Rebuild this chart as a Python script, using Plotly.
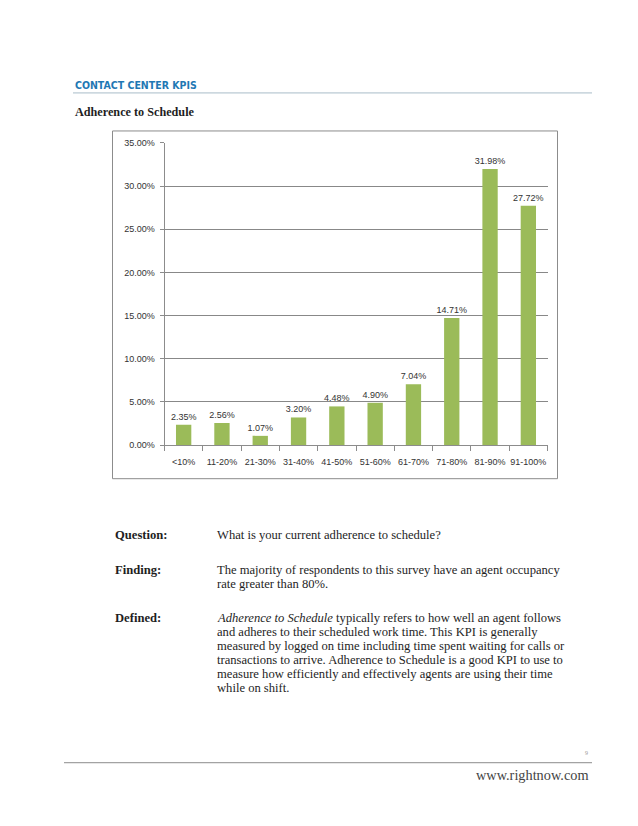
import plotly.graph_objects as go

W, H = 638, 826

categories = ["<10%", "11-20%", "21-30%", "31-40%", "41-50%", "51-60%", "61-70%", "71-80%", "81-90%", "91-100%"]
values = [2.35, 2.56, 1.07, 3.20, 4.48, 4.90, 7.04, 14.71, 31.98, 27.72]
y_ticks = [0, 5, 10, 15, 20, 25, 30, 35]
y_tick_text = [f"{v:.2f}%" for v in y_ticks]

def px_x(x):
    return x / W

def px_y(y):
    return 1 - y / H

fig = go.Figure()
fig.add_trace(go.Bar(
    x=categories, y=values,
    marker=dict(color="#9BBB59", line=dict(width=0)),
    texttemplate="%{y:.2f}%", textposition="outside", constraintext="none",
    textfont=dict(family="Liberation Sans", size=9, color="#333333"),
    cliponaxis=False,
))

SERIF = "Liberation Serif"
ann = []
def txt(x, y, s, size=12.6, bold=False, color="#1e1e1e", xanchor="left", family=SERIF):
    if bold:
        s = "<b>" + s + "</b>"
    ann.append(dict(x=px_x(x), y=px_y(y), xref="paper", yref="paper", text=s, showarrow=False,
                    xanchor=xanchor, yanchor="middle", font=dict(family=family, size=size, color=color)))

txt(73, 81, "CONTACT CENTER KPIS", size=10.5, bold=True, color="#1f78b4",
    family="DejaVu Sans Condensed")
txt(73, 108, "Adherence to Schedule", size=12.2, bold=True)

txt(113, 536, "Question:", bold=True)
txt(215, 536, "What is your current adherence to schedule?")
txt(113, 572, "Finding:", bold=True)
txt(215, 572, "The majority of respondents to this survey have an agent occupancy")
txt(215, 586, "rate greater than 80%.")
txt(113, 621, "Defined:", bold=True)
defined = [
    "<i>Adherence to Schedule</i> typically refers to how well an agent follows",
    "and adheres to their scheduled work time. This KPI is generally",
    "measured by logged on time including time spent waiting for calls or",
    "transactions to arrive. Adherence to Schedule is a good KPI to use to",
    "measure how efficiently and effectively agents are using their time",
    "while on shift.",
]
for i, line in enumerate(defined):
    txt(215, 621 + i * 14, line)

txt(590, 757, "9", size=6, color="#999999", xanchor="right")
txt(591, 779, "www.rightnow.com", size=14.3, color="#444444", xanchor="right")

shapes = [
    dict(type="line", xref="paper", yref="paper", x0=px_x(73), x1=px_x(592), y0=px_y(89), y1=px_y(89),
         line=dict(color="#a9bcc8", width=1)),
    dict(type="rect", xref="paper", yref="paper", x0=px_x(112.5), x1=px_x(557.5), y0=px_y(127.5), y1=px_y(479.5),
         line=dict(color="#8c8c8c", width=1)),
    dict(type="line", xref="paper", yref="paper", x0=px_x(64), x1=px_x(592), y0=px_y(767), y1=px_y(767),
         line=dict(color="#8c8c8c", width=1)),
]

fig.update_layout(
    width=W, height=H, margin=dict(l=0, r=0, t=0, b=0),
    paper_bgcolor="white", plot_bgcolor="white",
    showlegend=False, bargap=0.6,
    annotations=ann, shapes=shapes,
    xaxis=dict(domain=[px_x(164.5), px_x(547.5)], type="category",
               showline=True, linecolor="#8c8c8c", linewidth=1,
               ticks="outside", tickson="boundaries", ticklen=5, tickcolor="#8c8c8c",
               tickangle=0, ticklabelstandoff=8,
               tickfont=dict(family="Liberation Sans", size=9, color="#333333"),
               showgrid=False, fixedrange=True),
    yaxis=dict(domain=[px_y(445.5), px_y(139.5)], range=[0, 35], tickvals=y_ticks,
               ticktext=y_tick_text,
               showline=True, linecolor="#8c8c8c", linewidth=1,
               ticks="outside", ticklen=4, tickcolor="#8c8c8c", ticklabelstandoff=3,
               showgrid=True, gridcolor="#888888", gridwidth=1, zeroline=False,
               tickfont=dict(family="Liberation Sans", size=9, color="#333333"),
               fixedrange=True),
)

fig.write_html("out.html", config={"displayModeBar": False},
               post_script="document.body.style.margin='0';document.body.style.overflow='hidden';")
